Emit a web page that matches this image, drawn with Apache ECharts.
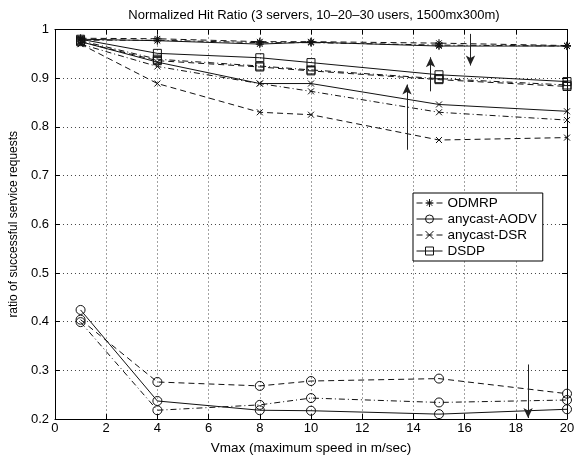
<!DOCTYPE html>
<html><head><meta charset="utf-8">
<script src="https://cdn.jsdelivr.net/npm/echarts@6/dist/echarts.min.js"></script>
<style>html,body{margin:0;padding:0;background:#fff}#c{width:581px;height:460px}</style>
</head><body><div id="c"></div>
<script>
const titleText = 'Normalized Hit Ratio (3 servers, 10\u201320\u201330 users, 1500mx300m)';
const xLabel = 'Vmax (maximum speed in m/sec)';
const yLabel = 'ratio of successful service requests';
const speeds = [1, 4, 8, 10, 15, 20];
const xTicks = [0, 2, 4, 6, 8, 10, 12, 14, 16, 18, 20];
const yTicks = [0.2, 0.3, 0.4, 0.5, 0.6, 0.7, 0.8, 0.9, 1];
const protocols = ['ODMRP', 'anycast-AODV', 'anycast-DSR', 'DSDP'];

const odmrpDashed  = [0.982, 0.981, 0.975, 0.975, 0.972, 0.967];
const odmrpSolid   = [0.980, 0.977, 0.970, 0.974, 0.966, 0.966];
const odmrpDashDot = [0.978, 0.978, 0.973, 0.973, 0.968, 0.966];

const aodvSolid   = [0.424, 0.237, 0.218, 0.217, 0.210, 0.220];
const aodvDashed  = [0.404, 0.276, 0.268, 0.278, 0.283, 0.252];
const aodvDashDot = [0.399, 0.218, 0.229, 0.243, 0.234, 0.239];

const dsrDashed  = [0.970, 0.889, 0.830, 0.825, 0.773, 0.778];
const dsrSolid   = [0.975, 0.933, 0.889, 0.889, 0.846, 0.832];
const dsrDashDot = [0.970, 0.924, 0.889, 0.873, 0.830, 0.814];

const dsdpSolid   = [0.980, 0.951, 0.942, 0.932, 0.907, 0.893];
const dsdpDashed  = [0.975, 0.936, 0.923, 0.915, 0.897, 0.883];
const dsdpDashDot = [0.977, 0.939, 0.925, 0.917, 0.899, 0.886];

const arrowX    = [13.75, 14.67, 16.23, 18.48];
const arrowFrom = [0.753, 0.873, 0.991, 0.312];
const arrowTo   = [0.887, 0.943, 0.926, 0.202];

const FONT = 'Liberation Sans, Arial, Helvetica, sans-serif';
const SYM = {
  'ODMRP': 'path://M5,0L5,10M0,5L10,5M1.5,1.5L8.5,8.5M8.5,1.5L1.5,8.5',
  'anycast-AODV': 'circle',
  'anycast-DSR': 'path://M0,0L10,10M10,0L0,10',
  'DSDP': 'rect'
};
const SIZE = {'ODMRP': 8, 'anycast-AODV': 9, 'anycast-DSR': 6, 'DSDP': 8};
const DASH = {solid: 'solid', dashed: [6, 4], dashdot: [6, 3, 1, 3]};

function mk(name, vals, style) {
  return {
    type: 'line', name: name,
    data: speeds.map((x, i) => [x, vals[i]]),
    symbol: SYM[name], symbolSize: SIZE[name],
    lineStyle: {color: '#111', width: 1, type: DASH[style]},
    itemStyle: {color: 'none', borderColor: '#111', borderWidth: 1},
    emphasis: {disabled: true},
    z: 3
  };
}

const series = [
  mk('ODMRP', odmrpDashed, 'dashed'),
  mk('ODMRP', odmrpSolid, 'solid'),
  mk('ODMRP', odmrpDashDot, 'dashdot'),
  mk('anycast-AODV', aodvSolid, 'solid'),
  mk('anycast-AODV', aodvDashed, 'dashed'),
  mk('anycast-AODV', aodvDashDot, 'dashdot'),
  mk('anycast-DSR', dsrDashed, 'dashed'),
  mk('anycast-DSR', dsrSolid, 'solid'),
  mk('anycast-DSR', dsrDashDot, 'dashdot'),
  mk('DSDP', dsdpSolid, 'solid'),
  mk('DSDP', dsdpDashed, 'dashed'),
  mk('DSDP', dsdpDashDot, 'dashdot'),
  {
    type: 'line', name: 'arrows', data: [], silent: true,
    markLine: {
      silent: true, animation: false,
      symbol: ['none', 'arrow'], symbolSize: [7, 10],
      label: {show: false},
      lineStyle: {color: '#222', width: 1, type: 'solid'},
      emphasis: {disabled: true},
      data: arrowX.map((x, i) => [{coord: [x, arrowFrom[i]]}, {coord: [x, arrowTo[i]]}])
    }
  }
];

const chart = echarts.init(document.getElementById('c'), null, {renderer: 'canvas'});
const axisCommon = {
  axisLine: {show: true, onZero: false, lineStyle: {color: '#000', width: 1}},
  axisTick: {show: true, inside: true, length: 5, lineStyle: {color: '#000'}}
};
chart.setOption({
  animation: false,
  backgroundColor: '#fff',
  textStyle: {fontFamily: FONT},
  title: {text: titleText, left: 309, top: 4, textAlign: 'center',
    textStyle: {fontSize: 13, fontWeight: 'normal', color: '#000', fontFamily: FONT}},
  grid: {left: 52, right: 14, top: 29.5, bottom: 38.5, containLabel: false},
  legend: {
    data: protocols, left: 413, top: 193, orient: 'vertical',
    backgroundColor: '#fff', borderColor: '#000', borderWidth: 1,
    padding: [3, 6, 3, 3], itemGap: 2, itemWidth: 26, itemHeight: 10,
    lineStyle: {width: 1}, itemStyle: {borderWidth: 1},
    textStyle: {fontSize: 13.5, lineHeight: 13, color: '#000', fontFamily: FONT},
    selectedMode: false
  },
  xAxis: [
    Object.assign({type: 'value', min: xTicks[0], max: xTicks[xTicks.length - 1], interval: 2,
      name: xLabel, nameLocation: 'middle', nameGap: 22,
      nameTextStyle: {fontSize: 13.5, color: '#000', fontFamily: FONT},
      axisLabel: {fontSize: 13, color: '#000', margin: 3, fontFamily: FONT},
      splitLine: {show: true, lineStyle: {color: '#444', type: [1, 3], width: 1}}}, axisCommon),
    Object.assign({type: 'value', position: 'top', min: 0, max: 20, interval: 2,
      axisLabel: {show: false}, splitLine: {show: false}}, axisCommon)
  ],
  yAxis: [
    Object.assign({type: 'value', min: yTicks[0], max: yTicks[yTicks.length - 1], interval: 0.1,
      name: yLabel, nameLocation: 'middle', nameGap: 30, nameRotate: 90,
      nameTextStyle: {fontSize: 12, color: '#000', fontFamily: FONT},
      axisLabel: {fontSize: 13, color: '#000', margin: 6, fontFamily: FONT,
        formatter: v => String(Math.round(v * 10) / 10)},
      splitLine: {show: true, lineStyle: {color: '#444', type: [1, 3], width: 1}}}, axisCommon),
    Object.assign({type: 'value', position: 'right', min: 0.2, max: 1, interval: 0.1,
      axisLabel: {show: false}, splitLine: {show: false}}, axisCommon)
  ],
  series: series
});
</script>
</body></html>
